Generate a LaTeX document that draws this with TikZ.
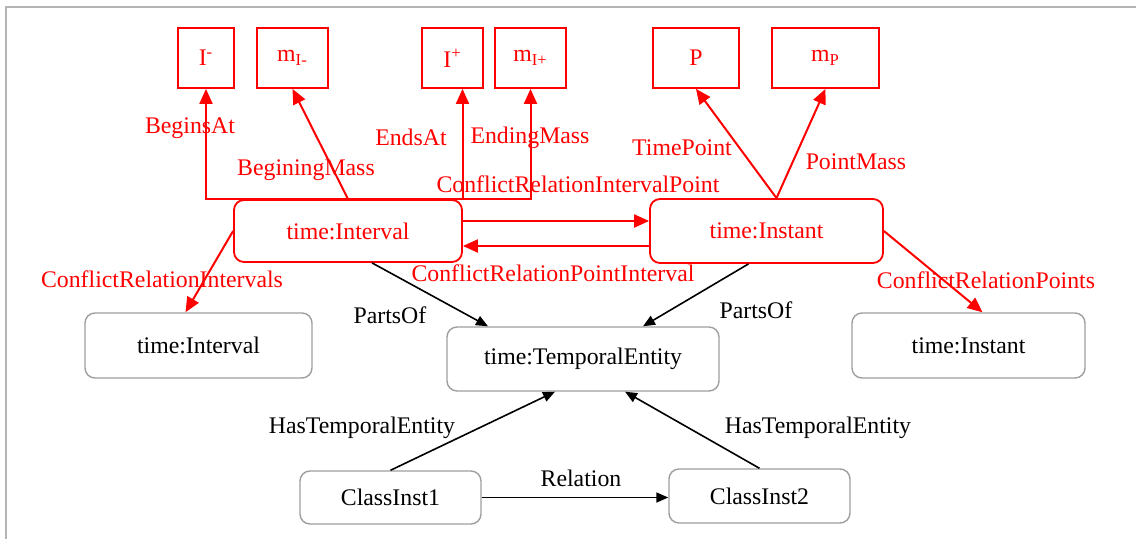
\documentclass[tikz,border=0pt]{standalone}
\usepackage{fontspec}
\setmainfont{Liberation Serif}
\usetikzlibrary{positioning,arrows.meta,calc}
\definecolor{OTRed}{HTML}{FF0000}
\definecolor{OTGray}{HTML}{9E9E9E}
\definecolor{OTFrame}{HTML}{B4B4B4}

\begin{document}
\begin{tikzpicture}[
  x=0.5pt, y=-0.5pt,
  font=\fontsize{11.9}{14}\selectfont,
  term/.style={draw=OTRed, line width=0.9pt, inner sep=0pt, minimum height=30pt, text=OTRed},
  redclass/.style={draw=OTRed, line width=0.9pt, rounded corners=5pt, inner sep=0pt, minimum width=114pt, minimum height=31pt, text=OTRed},
  classbox/.style={draw=OTGray, line width=0.7pt, rounded corners=5pt, inner sep=0pt, minimum width=113.5pt, minimum height=32.5pt},
  instbox/.style={classbox, minimum width=90.5pt, minimum height=26.5pt},
  rarrow/.style={-{Triangle[length=7.5pt,width=6.5pt]}, line width=1pt, OTRed},
  barrow/.style={-{Triangle[length=6pt,width=5pt]}, line width=0.8pt, black},
  rlabel/.style={text=OTRed, inner sep=0pt},
  blabel/.style={inner sep=0pt}
]
\useasboundingbox (0,0) rectangle (1136,539);
\draw[OTFrame, line width=1pt] (6,539) -- (6,7) -- (1136,7);

% values
\node[term, minimum width=28pt] (Im) at (206,58) {I\textsuperscript{-}};
\node[term, minimum width=35.5pt] (mIm) at (292.5,58) {m\textsubscript{I-}};
\node[term, minimum width=30.5pt] (Ip) at (452.5,58) {I\textsuperscript{+}};
\node[term, minimum width=35.5pt] (mIp) at (530.5,58) {m\textsubscript{I+}};
\node[term, minimum width=43pt] (P) at (696,58) {P};
\node[term, minimum width=53.5pt] (mP) at (825.5,58) {m\textsubscript{P}};

% classes
\node[redclass] (intv) at (348,231) {time:Interval};
\node[redclass, minimum width=116.5pt, minimum height=32pt] (inst) at (766.5,231) {time:Instant};
\node[classbox] (gintv) at (198.5,345.5) {time:Interval};
\node[classbox, minimum width=136pt, minimum height=32pt] (te) at (583,359) {time:TemporalEntity};
\node[classbox, minimum width=116.5pt] (ginst) at (968.5,345.5) {time:Instant};
\node[instbox] (ci1) at (390.5,497.5) {ClassInst1};
\node[instbox, minimum height=27pt] (ci2) at (759.5,496) {ClassInst2};

% red relations
\draw[rarrow] (intv.north) -| (Im.south);
\draw[rarrow] (intv.north) -- (mIm.south);
\draw[rarrow] (intv.north) -| ([xshift=5pt]Ip.south);
\draw[rarrow] (intv.north) -| (mIp.south);
\draw[rarrow] ([xshift=5pt]inst.north) -- (P.south);
\draw[rarrow] ([xshift=5pt]inst.north) -- (mP.south);
\draw[rarrow] ([yshift=5pt]intv.east) -- ([yshift=5pt]inst.west);
\draw[rarrow] ([yshift=-7.5pt]inst.west) -- ([yshift=-7.5pt]intv.east);
\draw[rarrow] (intv.west) -- ([xshift=-6.5pt]gintv.north);
\draw[rarrow] (inst.east) -- ([xshift=7pt]ginst.north);

% black relations
\draw[barrow] ([xshift=12pt]intv.south) -- ([xshift=-47.5pt]te.north);
\draw[barrow] ([xshift=-9pt]inst.south) -- ([xshift=30pt]te.north);
\draw[barrow] (ci1.north) -- ([xshift=-14pt]te.south);
\draw[barrow] (ci2.north) -- ([xshift=21pt]te.south);
\draw[barrow] (ci1.east) -- (ci1.east -| ci2.west);

% labels
\node[rlabel] (lbBegins) at (190,128) {BeginsAt};
\node[rlabel] (lbBeginMass) at (306,170) {BeginingMass};
\node[rlabel] (lbEnds) at (411,137) {EndsAt};
\node[rlabel] (lbEndMass) at (530,138) {EndingMass};
\node[rlabel] (lbTime) at (682,148) {TimePoint};
\node[rlabel] (lbPointMass) at (856,162) {PointMass};
\node[rlabel] (lbIP) at (578,184) {ConflictRelationIntervalPoint};
\node[rlabel] (lbPI) at (553,273) {ConflictRelationPointInterval};
\node[rlabel] (lbII) at (162,279) {ConflictRelationIntervals};
\node[rlabel] (lbPP) at (986,280) {ConflictRelationPoints};
\node[blabel] (lbPartsL) at (390,315) {PartsOf};
\node[blabel] (lbPartsR) at (756,310) {PartsOf};
\node[blabel] (lbHasL) at (362,428) {HasTemporalEntity};
\node[blabel] (lbHasR) at (818,428) {HasTemporalEntity};
\node[blabel] (lbRel) at (581,478) {Relation};
\end{tikzpicture}
\end{document}
